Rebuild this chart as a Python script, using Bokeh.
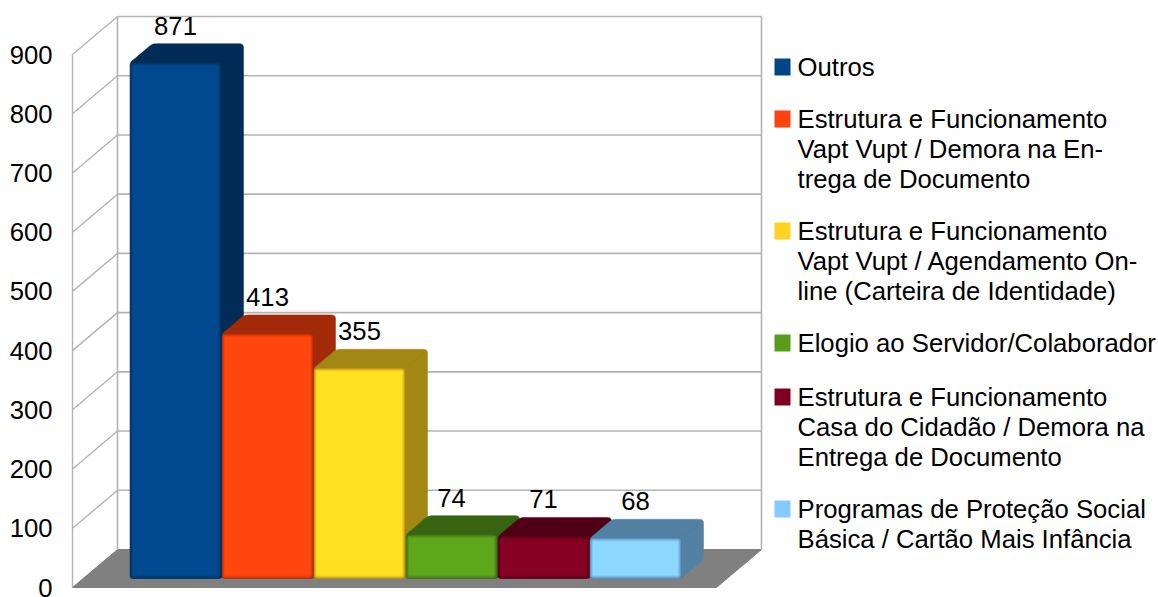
import numpy as np
from bokeh.core.properties import value
from bokeh.embed import file_html
from bokeh.models import FixedTicker, Range1d
from bokeh.plotting import figure
from bokeh.resources import INLINE

# Chart data
series_names = [
    "Outros",
    "Estrutura e Funcionamento Vapt Vupt / Demora na Entrega de Documento",
    "Estrutura e Funcionamento Vapt Vupt / Agendamento On-line (Carteira de Identidade)",
    "Elogio ao Servidor/Colaborador",
    "Estrutura e Funcionamento Casa do Cidadão / Demora na Entrega de Documento",
    "Programas de Proteção Social Básica / Cartão Mais Infância",
]
series_values = [871, 413, 355, 74, 71, 68]
series_colors = ["#004586", "#ff420e", "#ffd320", "#579d1c", "#7e0021", "#83caff"]
y_ticks = [0, 100, 200, 300, 400, 500, 600, 700, 800, 900]
legend_lines = [
    ["Outros"],
    ["Estrutura e Funcionamento", "Vapt Vupt / Demora na En-", "trega de Documento"],
    ["Estrutura e Funcionamento", "Vapt Vupt / Agendamento On-", "line (Carteira de Identidade)"],
    ["Elogio ao Servidor/Colaborador"],
    ["Estrutura e Funcionamento", "Casa do Cidadão / Demora na", "Entrega de Documento"],
    ["Programas de Proteção Social", "Básica / Cartão Mais Infância"],
]
legend_first_line_px = [66, 118, 230, 342, 396, 508]

W, H = 1158, 597
FONT = "Liberation Sans"
FONT_SIZE = "25.7px"
FRAME_LEFT, FRAME_BOTTOM = 60, 590
ORIGIN_X, ORIGIN_Y = 72, 587       # front corner of the floor
PX_PER_UNIT = 533 / 900
SLOT_PX = 92                       # horizontal size of one bar slot


# Pixel <-> data helpers; x is measured in slots, y in chart units
def xd(px):
    return (np.asarray(px, dtype=float) - ORIGIN_X) / SLOT_PX


def yd(py):
    return (ORIGIN_Y - np.asarray(py, dtype=float)) / PX_PER_UNIT


def rounded(xs, ys, r, steps=5):
    """Polygon (in px) with its corners rounded by radius r."""
    out_x, out_y = [], []
    n = len(xs)
    for i in range(n):
        p0 = np.array([xs[i - 1], ys[i - 1]], dtype=float)
        p1 = np.array([xs[i], ys[i]], dtype=float)
        p2 = np.array([xs[(i + 1) % n], ys[(i + 1) % n]], dtype=float)
        rad = r[i] if np.ndim(r) else r
        a = p1 + (p0 - p1) / np.linalg.norm(p0 - p1) * rad
        b = p1 + (p2 - p1) / np.linalg.norm(p2 - p1) * rad
        for t in np.linspace(0, 1, steps):
            q = (1 - t) ** 2 * a + 2 * t * (1 - t) * p1 + t**2 * b
            out_x.append(q[0])
            out_y.append(q[1])
    return xd(out_x), yd(out_y)


def shade(color, k):
    rgb = np.array([int(color[i:i + 2], 16) for i in (1, 3, 5)], dtype=float)
    return "#%02x%02x%02x" % tuple(int(c) for c in np.clip(rgb * k, 0, 255))


p = figure(
    width=W,
    height=H,
    output_backend="svg",
    toolbar_location=None,
    x_range=Range1d(float(xd(FRAME_LEFT)), float(xd(W))),
    y_range=Range1d(float(yd(FRAME_BOTTOM)), float(yd(0))),
    min_border_left=FRAME_LEFT,
    min_border_right=0,
    min_border_top=0,
    min_border_bottom=H - FRAME_BOTTOM,
    outline_line_color=None,
    background_fill_color="white",
    border_fill_color="white",
)
p.grid.visible = False
p.xaxis.visible = False
p.yaxis.ticker = FixedTicker(ticks=y_ticks)
p.yaxis.axis_line_color = None
p.yaxis.major_tick_line_color = None
p.yaxis.minor_tick_line_color = None
p.yaxis.major_tick_out = 0
p.yaxis.major_tick_in = 0
p.yaxis.major_label_standoff = 8
p.yaxis.major_label_text_font = FONT
p.yaxis.major_label_text_font_size = FONT_SIZE
p.yaxis.major_label_text_color = "#000000"

# Chart box: floor, walls and grid lines
WALL_DX, WALL_DY = 45 / SLOT_PX, 38 / PX_PER_UNIT
WALL_WIDTH = 644 / SLOT_PX
GRID = "#b3b3b3"
p.patch(
    [0, WALL_DX, WALL_DX + WALL_WIDTH, WALL_WIDTH],
    [0, WALL_DY, WALL_DY, 0],
    fill_color="#808080",
    line_color="#808080",
    line_width=1,
)
top_tick = y_ticks[-1]
p.line([0, 0], [0, top_tick], line_color=GRID, line_width=1.4)
p.line([WALL_DX, WALL_DX], [WALL_DY, top_tick + WALL_DY], line_color=GRID, line_width=1.6)
p.line(
    [WALL_DX + WALL_WIDTH] * 2,
    [WALL_DY, top_tick + WALL_DY],
    line_color=GRID,
    line_width=1.6,
)
for t in y_ticks[1:]:
    p.line([0, WALL_DX], [t, t + WALL_DY], line_color=GRID, line_width=1.4)
    p.line(
        [WALL_DX, WALL_DX + WALL_WIDTH],
        [t + WALL_DY, t + WALL_DY],
        line_color=GRID,
        line_width=1.6,
    )

# Bars: one dark extruded body with a bevelled front face on top
BAR_LEFT_PX, BAR_BOTTOM_PX, BAR_W_PX = 129.5, 578, 91
DEPTH_X, DEPTH_Y = 22.5, 19
for i, (val, col) in enumerate(zip(series_values, series_colors)):
    x0 = BAR_LEFT_PX + i * SLOT_PX
    x1 = x0 + BAR_W_PX
    y0 = BAR_BOTTOM_PX
    y1 = ORIGIN_Y - (val * PX_PER_UNIT + 9)
    body = rounded(
        [x0, x0 + DEPTH_X, x1 + DEPTH_X, x1 + DEPTH_X, x1, x0],
        [y1, y1 - DEPTH_Y, y1 - DEPTH_Y, y0 - DEPTH_Y, y0, y0],
        [3, 4, 4, 4, 3, 3],
    )
    dark = shade(col, 0.64)
    p.patch(*body, fill_color=dark, line_color=dark, line_width=0.5)
    # Darker rim where the side and top faces meet
    p.line(
        xd([x1, x1 + DEPTH_X - 4]),
        yd([y1, y1 - DEPTH_Y + 4]),
        line_color=shade(col, 0.58),
        line_alpha=0.35,
        line_width=1,
    )
    for inset, k in zip((0, 1, 2, 3), (0.76, 0.88, 0.98, 1.07)):
        face = rounded(
            [x0 + inset, x1 - inset, x1 - inset, x0 + inset],
            [y1 + inset, y1 + inset, y0 - inset, y0 - inset],
            max(3.5 - inset, 0.6),
        )
        p.patch(*face, fill_color=shade(col, k), line_color=None)

    # Data label above the bar
    p.text(
        [float(xd(x0 + BAR_W_PX / 2))],
        [float(yd(y1 - DEPTH_Y - 9))],
        text=[str(val)],
        text_font=value(FONT),
        text_font_size=FONT_SIZE,
        text_color="#000000",
        text_align="center",
        text_baseline="bottom",
    )

# Legend, wrapped by hand line by line
LEGEND_SWATCH_X, LEGEND_TEXT_X, LINE_PX = 774, 797, 30
for lines, first_y, col in zip(legend_lines, legend_first_line_px, series_colors):
    p.quad(
        left=[float(xd(LEGEND_SWATCH_X))],
        right=[float(xd(LEGEND_SWATCH_X + 16))],
        top=[float(yd(first_y - 8))],
        bottom=[float(yd(first_y + 9))],
        fill_color=col,
        line_color=None,
    )
    for j, line in enumerate(lines):
        p.text(
            [float(xd(LEGEND_TEXT_X))],
            [float(yd(first_y + j * LINE_PX))],
            text=[line],
            text_font=value(FONT),
            text_font_size=FONT_SIZE,
            text_color="#000000",
            text_align="left",
            text_baseline="middle",
        )

open("out.html", "w").write(file_html(p, INLINE))
